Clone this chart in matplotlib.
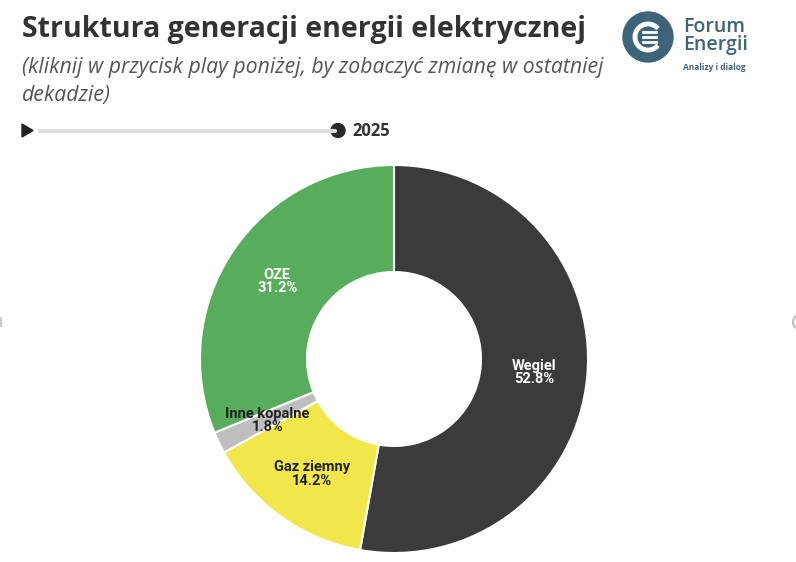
import matplotlib
matplotlib.use("Agg")
import matplotlib.pyplot as plt
from matplotlib.patches import Circle, Polygon, Arc
from matplotlib.lines import Line2D
import numpy as np

categories = ["Wegiel", "Gaz ziemny", "Inne kopalne", "OZE"]
values = [52.8, 14.2, 1.8, 31.2]
colors = ["#3b3b3b", "#f1e74b", "#bebebe", "#57ad5b"]
label_colors = ["white", "#222222", "#222222", "white"]
year = "2025"

W, H = 796, 562
fig = plt.figure(figsize=(W / 100, H / 100), dpi=100)
fig.patch.set_facecolor("white")
ax = fig.add_axes([0, 0, 1, 1])
ax.set_xlim(0, W)
ax.set_ylim(H, 0)
ax.axis("off")

# Title and subtitle
ax.text(22, 30, "Struktura generacji energii elektrycznej", fontsize=20.5, fontweight="bold",
        color="#333333", family="Open Sans", va="center", ha="left")
ax.text(22, 68, "(kliknij w przycisk play poniżej, by zobaczyć zmianę w ostatniej", fontsize=15.3,
        style="italic", color="#555555", family="Open Sans", va="center", ha="left")
ax.text(22, 96, "dekadzie)", fontsize=15.3, style="italic", color="#555555",
        family="Open Sans", va="center", ha="left")

# Slider
ax.add_patch(Polygon([[22, 124], [22, 137], [33, 130.5]], closed=True, color="#222222"))
ax.add_line(Line2D([40, 335], [130.5, 130.5], color="#dddddd", lw=3, solid_capstyle="round"))
ax.add_patch(Circle((338, 130.5), 7, color="#2a2a2a"))
ax.text(352, 131, year, fontsize=12, fontweight="bold", color="#333333", family="Open Sans",
        va="center", ha="left")

# Logo
logo_c = "#3e6479"
ax.add_patch(Circle((648, 37), 25, color=logo_c))
ax.add_patch(Arc((648, 37), 26, 26, theta1=40, theta2=320, color="white", lw=3.5))
for dy in (-5, 0, 5):
    ax.add_line(Line2D([643, 656], [37 + dy, 37 + dy], color="white", lw=2))
ax.text(683, 36, "Forum\nEnergii", fontsize=14, color=logo_c, family="Open Sans",
        fontweight="semibold", va="center", ha="left", linespacing=0.9)
ax.text(683, 67, "Analizy i dialog", fontsize=6, color=logo_c, family="Open Sans",
        fontweight="bold", va="center", ha="left")

# Side nav hints
ax.add_patch(Arc((800, 322), 14, 14, theta1=90, theta2=270, color="#bbbbbb", lw=1.5))
ax.add_line(Line2D([1, 1], [318, 326], color="#cccccc", lw=1.5))

# Donut
cx, cy, R, r_in = 394, 359, 194, 87
pax = fig.add_axes([0, 0, 1, 1])
pax.set_xlim(0, W)
pax.set_ylim(0, H)
pax.axis("off")
wedges, _ = pax.pie(values, colors=colors, startangle=90, counterclock=False,
                    center=(cx, H - cy), radius=R,
                    wedgeprops=dict(width=R - r_in, edgecolor="white", linewidth=1.5))
pax.set_xlim(0, W)
pax.set_ylim(0, H)
pax.set_aspect("auto")

cum = 0
for cat, v, lc in zip(categories, values, label_colors):
    mid = 90 - (cum + v / 2) * 3.6
    cum += v
    rr = (R + r_in) / 2
    x = cx + rr * np.cos(np.radians(mid))
    y = (H - cy) + rr * np.sin(np.radians(mid)) - 1
    pax.text(x, y, f"{cat}\n{v:.1f}%", ha="center", va="center", color=lc, fontsize=10.5,
             fontweight="bold", family="Roboto", linespacing=0.95)

fig.savefig("out.png", dpi=100, facecolor="white")
